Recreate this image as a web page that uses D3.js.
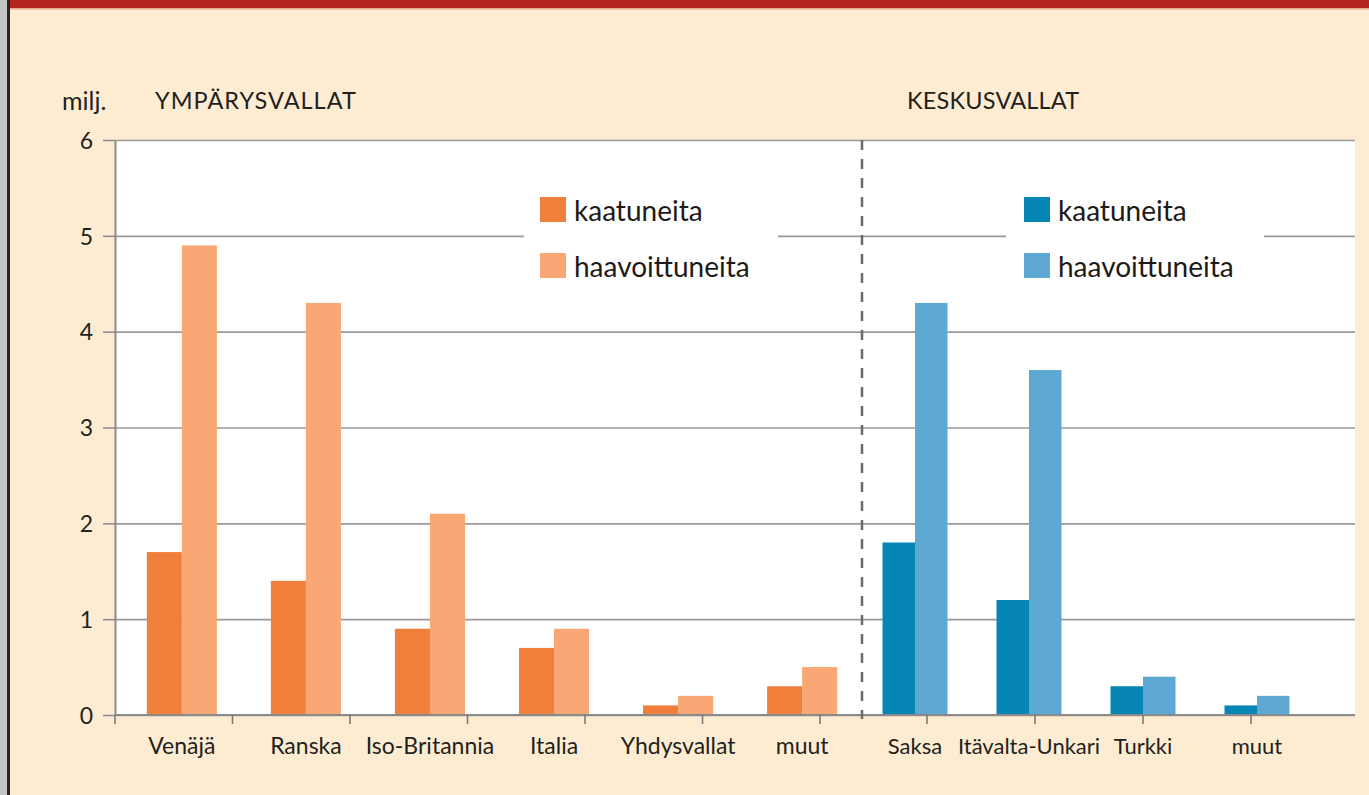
<!DOCTYPE html>
<html>
<head>
<meta charset="utf-8">
<script src="https://cdn.jsdelivr.net/npm/d3@7"></script>
<style>
  body { margin: 0; background: #fdecd2; }
  svg { display: block; font-family: "Lato", "Open Sans", sans-serif; }
</style>
</head>
<body>
<svg id="chart" width="1369" height="795"></svg>
<script>
// data (millions)
var leftCats = ["Venäjä", "Ranska", "Iso-Britannia", "Italia", "Yhdysvallat", "muut"];
var leftKilled = [1.7, 1.4, 0.9, 0.7, 0.1, 0.3];
var leftWounded = [4.9, 4.3, 2.1, 0.9, 0.2, 0.5];

var rightCats = ["Saksa", "Itävalta-Unkari", "Turkki", "muut"];
var rightKilled = [1.8, 1.2, 0.3, 0.1];
var rightWounded = [4.3, 3.6, 0.4, 0.2];

var seriesNames = ["kaatuneita", "haavoittuneita"];
var yTicks = [0, 1, 2, 3, 4, 5, 6];

(function () {
var svg = d3.select("#chart");
var W = 1369, H = 795;
var pLeft = 115, pRight = 1355, pTop = 140, pBottom = 715, split = 862;

// frame
svg.append("rect").attr("width", W).attr("height", H).attr("fill", "#fdecd2");
svg.append("rect").attr("x", 0).attr("y", 0).attr("width", 7).attr("height", H).attr("fill", "#c4c4c4");
svg.append("rect").attr("x", 7).attr("y", 0).attr("width", 3).attr("height", H).attr("fill", "#2a2420");
svg.append("rect").attr("x", 10).attr("y", 0).attr("width", W).attr("height", 8).attr("fill", "#b3261e");
svg.append("rect").attr("x", 10).attr("y", 8).attr("width", W).attr("height", 1.5).attr("fill", "#e9a98a");

var y = d3.scaleLinear().domain([0, 6]).range([pBottom, pTop]);

var xL = d3.scaleBand().domain(leftCats).range([pLeft + 7, split]).paddingInner(0.435).paddingOuter(0.2);
var xR = d3.scaleBand().domain(rightCats).range([split, 1310]).paddingInner(0.43).paddingOuter(0.18);
var xLSub = d3.scaleBand().domain(seriesNames).range([0, xL.bandwidth()]);
var xRSub = d3.scaleBand().domain(seriesNames).range([0, xR.bandwidth()]);

// x tick marks don't line up with the bars in the original
var xTickL = d3.scaleLinear().domain([0, 1]).range([pLeft, pLeft + 117.5]);
var xTickR = d3.scaleLinear().domain([0, 1]).range([927, 1035]);

// plot background
svg.append("rect").attr("x", pLeft).attr("y", pTop).attr("width", pRight - pLeft).attr("height", pBottom - pTop).attr("fill", "#fff");

// gridlines
svg.append("g")
  .attr("transform", "translate(" + pLeft + ",0)")
  .call(d3.axisLeft(y).tickValues(yTicks).tickSize(-(pRight - pLeft)).tickSizeOuter(0).tickFormat(""))
  .call(g => g.select(".domain").remove())
  .selectAll("line").attr("stroke", "#9a9a9a").attr("stroke-width", 1.6);

// y ticks + labels
var yAxis = svg.append("g")
  .attr("transform", "translate(" + pLeft + ",0)")
  .call(d3.axisLeft(y).tickValues(yTicks).tickSize(12).tickSizeOuter(0).tickPadding(10).tickFormat(d3.format("d")));
yAxis.select(".domain").attr("stroke", "#8a8a8a").attr("stroke-width", 2);
yAxis.selectAll("line").attr("stroke", "#8a8a8a").attr("stroke-width", 1.5);
yAxis.selectAll("text").attr("font-size", 23).attr("font-family", "Lato").attr("fill", "#231f1c").attr("dy", "0.36em");

// legend boxes (hide gridline behind)
svg.append("rect").attr("x", 524).attr("y", 190).attr("width", 254).attr("height", 95).attr("fill", "#fff");
svg.append("rect").attr("x", 1006).attr("y", 190).attr("width", 258).attr("height", 95).attr("fill", "#fff");

var leftColors = d3.scaleOrdinal().domain(seriesNames).range(["#f07f3c", "#f8a775"]);
var rightColors = d3.scaleOrdinal().domain(seriesNames).range(["#0686b4", "#5ea9d3"]);

function drawBars(x, xSub, cats, killed, wounded, colors) {
  var rows = cats.map((c, i) => ({cat: c, vals: [killed[i], wounded[i]]}));
  svg.append("g").selectAll("g")
    .data(rows).enter().append("g")
    .attr("transform", d => "translate(" + x(d.cat) + ",0)")
    .selectAll("rect")
    .data(d => d.vals.map((v, j) => ({key: seriesNames[j], value: v})))
    .enter().append("rect")
    .attr("x", d => xSub(d.key))
    .attr("width", xSub.bandwidth())
    .attr("y", d => y(d.value))
    .attr("height", d => y(0) - y(d.value))
    .attr("fill", d => colors(d.key));
}
drawBars(xL, xLSub, leftCats, leftKilled, leftWounded, leftColors);
drawBars(xR, xRSub, rightCats, rightKilled, rightWounded, rightColors);

// x axis line and ticks
svg.append("line").attr("x1", pLeft).attr("x2", pRight).attr("y1", pBottom).attr("y2", pBottom)
  .attr("stroke", "#8a8a8a").attr("stroke-width", 2);
var tickG = svg.append("g").attr("stroke", "#7a7a7a").attr("stroke-width", 1.6);
d3.range(7).forEach(i => {
  tickG.append("line").attr("x1", xTickL(i)).attr("x2", xTickL(i)).attr("y1", pBottom).attr("y2", pBottom + 9);
});
d3.range(4).forEach(i => {
  tickG.append("line").attr("x1", xTickR(i)).attr("x2", xTickR(i)).attr("y1", pBottom).attr("y2", pBottom + 9);
});

// category labels
function catLabels(x, cats, size) {
  svg.append("g").selectAll("text").data(cats).enter().append("text")
    .attr("x", d => x(d) + x.bandwidth() / 2)
    .attr("y", 754)
    .attr("text-anchor", "middle")
    .attr("font-size", size)
    .attr("fill", "#231f1c")
    .text(d => d);
}
catLabels(xL, leftCats, 23);
catLabels(xR, rightCats, 22);

// dashed divider
svg.append("line").attr("x1", split).attr("x2", split).attr("y1", pTop).attr("y2", pBottom + 4)
  .attr("stroke", "#6a6a6a").attr("stroke-width", 2.5).attr("stroke-dasharray", "10,9");

// titles
svg.append("text").attr("x", 62).attr("y", 110).attr("font-size", 25).attr("fill", "#231f1c").text("milj.");
svg.append("text").attr("x", 155).attr("y", 109).attr("font-size", 23.5).attr("letter-spacing", 1).attr("fill", "#231f1c").text("YMPÄRYSVALLAT");
svg.append("text").attr("x", 907).attr("y", 109).attr("font-size", 23.5).attr("letter-spacing", 0.2).attr("fill", "#231f1c").text("KESKUSVALLAT");

// legends
function legend(x0, colors) {
  var g = svg.append("g");
  seriesNames.forEach((s, i) => {
    g.append("rect").attr("x", x0).attr("y", 197 + i * 56).attr("width", 26).attr("height", 25).attr("fill", colors(s));
    g.append("text").attr("x", x0 + 34).attr("y", 221 + i * 56).attr("font-size", 28).attr("fill", "#1e1a18").text(s);
  });
}
legend(540, leftColors);
legend(1024, rightColors);
})();
</script>
</body>
</html>
